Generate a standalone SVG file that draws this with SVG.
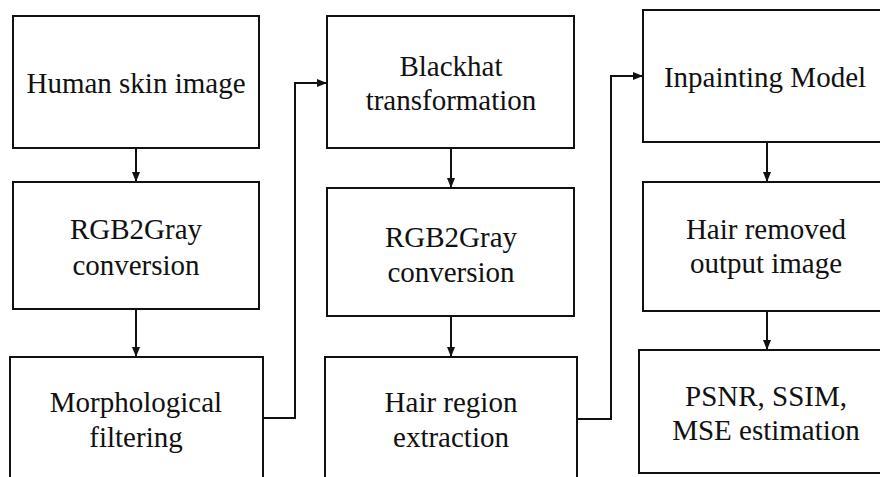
<svg xmlns="http://www.w3.org/2000/svg" width="880" height="477" viewBox="0 0 880 477">
<style>
.box{fill:#fff;stroke:#111;stroke-width:2}
.t{font-family:'Liberation Serif','Times New Roman',serif;font-size:29px;fill:#111;text-anchor:middle}
.c{fill:none;stroke:#111;stroke-width:2}
</style>
<defs>
<marker id="ah" markerUnits="userSpaceOnUse" markerWidth="10" markerHeight="10" refX="10" refY="5" orient="auto">
<path d="M0,1 L10,5 L0,9 Z" fill="#111"/>
</marker>
</defs>
<rect width="880" height="477" fill="#fff"/>
<g id="connectors">
<line class="c" x1="136" y1="148" x2="136" y2="182" marker-end="url(#ah)"/>
<line class="c" x1="136" y1="309" x2="136" y2="357" marker-end="url(#ah)"/>
<line class="c" x1="451" y1="148" x2="451" y2="188" marker-end="url(#ah)"/>
<line class="c" x1="451" y1="316" x2="451" y2="357" marker-end="url(#ah)"/>
<line class="c" x1="767" y1="142" x2="767" y2="182" marker-end="url(#ah)"/>
<line class="c" x1="767" y1="311" x2="767" y2="350" marker-end="url(#ah)"/>
<polyline class="c" points="263,418 295,418 295,83 327,83" marker-end="url(#ah)"/>
<polyline class="c" points="577,419 611,419 611,76 643,76" marker-end="url(#ah)"/>
</g>
<g id="n1"><rect class="box" x="13" y="16" width="246" height="132"/><text class="t" x="136" y="93">Human skin image</text></g>
<g id="n2"><rect class="box" x="13" y="182" width="246" height="127"/><text class="t" x="136" y="239">RGB2Gray</text><text class="t" x="136" y="275">conversion</text></g>
<g id="n3"><rect class="box" x="10" y="357" width="253" height="140"/><text class="t" x="136" y="412">Morphological</text><text class="t" x="136" y="447">filtering</text></g>
<g id="n4"><rect class="box" x="327" y="16" width="247" height="132"/><text class="t" x="451" y="76">Blackhat</text><text class="t" x="451" y="110">transformation</text></g>
<g id="n5"><rect class="box" x="327" y="188" width="247" height="128"/><text class="t" x="451" y="247">RGB2Gray</text><text class="t" x="451" y="282">conversion</text></g>
<g id="n6"><rect class="box" x="325" y="357" width="252" height="140"/><text class="t" x="451" y="412">Hair region</text><text class="t" x="451" y="447">extraction</text></g>
<g id="n7"><rect class="box" x="643" y="10" width="248" height="132"/><text class="t" x="765" y="87">Inpainting Model</text></g>
<g id="n8"><rect class="box" x="643" y="182" width="248" height="129"/><text class="t" x="766" y="239">Hair removed</text><text class="t" x="766" y="273">output image</text></g>
<g id="n9"><rect class="box" x="639" y="350" width="252" height="123"/><text class="t" x="766" y="406">PSNR, SSIM,</text><text class="t" x="766" y="440">MSE estimation</text></g>
</svg>
